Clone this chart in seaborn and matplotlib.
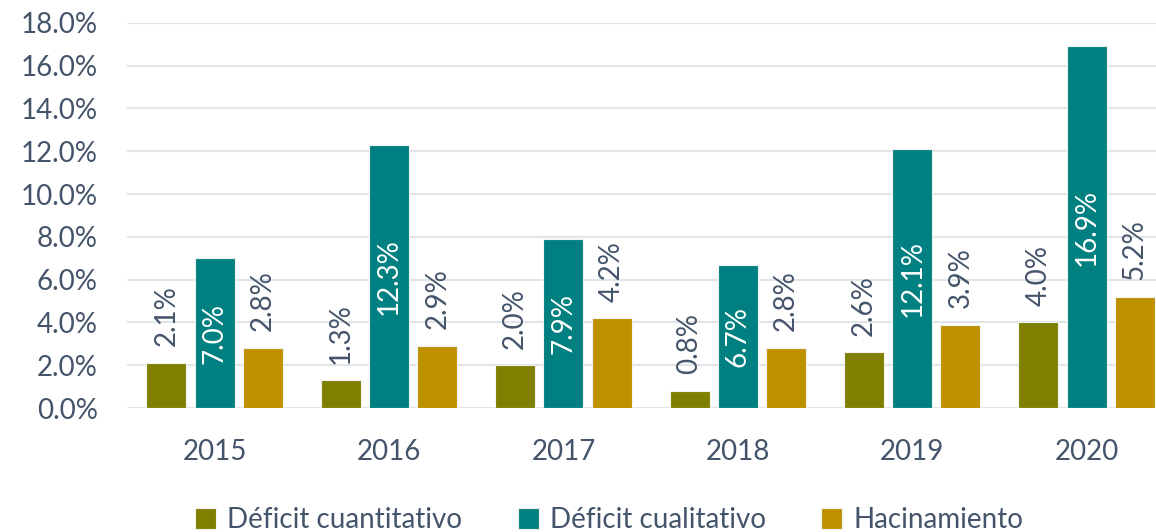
import pandas as pd
import matplotlib.pyplot as plt
import seaborn as sns

# --- datos ---
years = ["2015", "2016", "2017", "2018", "2019", "2020"]
series = ["Déficit cuantitativo", "Déficit cualitativo", "Hacinamiento"]
cuantitativo = [2.1, 1.3, 2.0, 0.8, 2.6, 4.0]
cualitativo = [7.0, 12.3, 7.9, 6.7, 12.1, 16.9]
hacinamiento = [2.8, 2.9, 4.2, 2.8, 3.9, 5.2]
colors = ["#808000", "#008080", "#BF9000"]
txt = "#44546A"

df = pd.DataFrame({
    "year": years * 3,
    "serie": [series[0]] * 6 + [series[1]] * 6 + [series[2]] * 6,
    "valor": cuantitativo + cualitativo + hacinamiento,
})

sns.set_style("white")
plt.rcParams["font.family"] = ["Lato", "DejaVu Sans"]

fig = plt.figure(figsize=(11.56, 5.32), dpi=100)
ax = fig.add_axes([0.110, 0.233, 0.890, 0.724])

sns.barplot(data=df, x="year", y="valor", hue="serie", hue_order=series,
            palette=colors, saturation=1, width=0.83, gap=0.17,
            edgecolor="#F2F2F2", linewidth=0.8, ax=ax, legend=True)

for i, cont in enumerate(ax.containers):
    labels = [f"{v:.1f}%" for v in cont.datavalues]
    if i == 1:
        ax.bar_label(cont, labels=labels, label_type="center", rotation=90,
                     color="white", fontsize=20)
    else:
        ax.bar_label(cont, labels=labels, padding=12, rotation=90,
                     color=txt, fontsize=20)

ax.set_ylim(0, 18)
ax.set_xlim(-0.502, 5.398)
ax.set_yticks(range(0, 19, 2))
ax.set_yticklabels([f"{v:.1f}%" for v in range(0, 19, 2)])
ax.yaxis.grid(True, color="#E1E5EA", linewidth=1.5)
ax.set_axisbelow(True)
for s in ax.spines.values():
    s.set_visible(False)
ax.tick_params(axis="both", length=0, labelsize=20, colors=txt)
ax.tick_params(axis="x", pad=22)
ax.tick_params(axis="y", pad=21)
ax.set_xlabel("")
ax.set_ylabel("")

handles, lbls = ax.get_legend_handles_labels()
ax.get_legend().remove()
fig.legend(handles, lbls, loc="center", bbox_to_anchor=(0.527, 0.022),
           ncol=3, frameon=False, fontsize=20, labelcolor=txt,
           handlelength=0.75, handleheight=0.75, handletextpad=0.4,
           columnspacing=2.0)

fig.savefig("out.png", dpi=100)
